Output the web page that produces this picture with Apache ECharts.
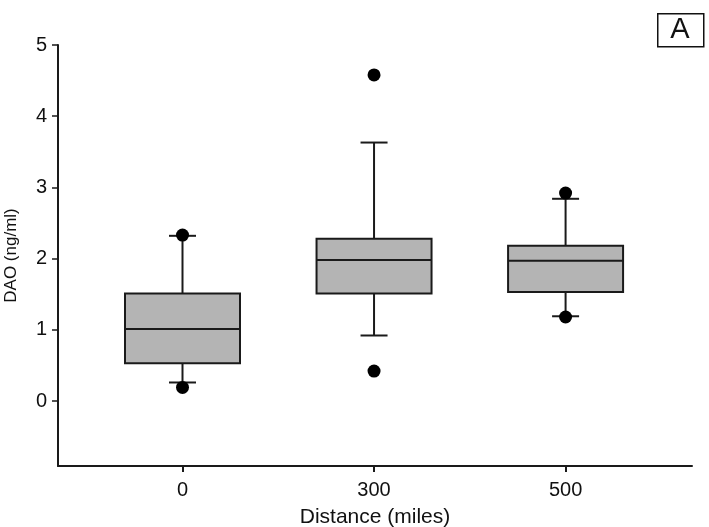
<!DOCTYPE html>
<html>
<head>
<meta charset="utf-8">
<script src="https://cdn.jsdelivr.net/npm/echarts@6/dist/echarts.min.js"></script>
<style>
html,body{margin:0;padding:0;background:#fff;}
#chart{width:709px;height:527px;}
</style>
</head>
<body>
<div id="chart"></div>
<script>
// ---- data ----
var categories = ['0', '300', '500'];
var positions = [1, 2, 3];
var mins    = [0.26, 0.92, 1.19];
var q1s     = [0.53, 1.51, 1.53];
var medians = [1.01, 1.98, 1.97];
var q3s     = [1.51, 2.28, 2.18];
var maxs    = [2.32, 3.63, 2.84];
var outlierPos    = [1, 1, 2, 2, 3, 3];
var outlierValues = [2.33, 0.19, 4.58, 0.42, 2.92, 1.18];
var yTicks = [0, 1, 2, 3, 4, 5];

var boxData = positions.map(function (p, i) {
  return [p, mins[i], q1s[i], medians[i], q3s[i], maxs[i]];
});
var outlierData = outlierPos.map(function (p, i) { return [p, outlierValues[i]]; });

var LINE = '#1a1a1a';
var FONT = 'Liberation Sans, Arial, sans-serif';
var BOX_HALF = 57.5;
var CAP_HALF = 13.5;

var chart = echarts.init(document.getElementById('chart'));
chart.setOption({
  backgroundColor: '#ffffff',
  animation: false,
  grid: { left: 58, right: 17, top: 45, bottom: 61, containLabel: false, outerBoundsMode: 'none' },
  xAxis: {
    type: 'value',
    min: 0.35, max: 3.66,
    name: 'Distance (miles)',
    nameLocation: 'middle',
    nameGap: 41,
    nameTextStyle: { fontFamily: FONT, fontSize: 21, color: '#111' },
    splitLine: { show: false },
    axisLine: { show: true, onZero: false, lineStyle: { color: LINE, width: 2 } },
    axisTick: { show: true, length: 6, customValues: positions, lineStyle: { color: LINE, width: 2 } },
    axisLabel: {
      customValues: positions,
      margin: 14,
      fontFamily: FONT, fontSize: 20, color: '#111',
      formatter: function (v) { return categories[positions.indexOf(Math.round(v))] || ''; }
    }
  },
  yAxis: {
    type: 'value',
    min: -0.913, max: 5,
    name: 'DAO (ng/ml)',
    nameLocation: 'middle',
    nameGap: 38,
    nameTextStyle: { fontFamily: FONT, fontSize: 17, color: '#111' },
    splitLine: { show: false },
    axisLine: { show: true, onZero: false, lineStyle: { color: LINE, width: 2 } },
    axisTick: { show: true, length: 6, customValues: yTicks, lineStyle: { color: LINE, width: 1.5 } },
    axisLabel: {
      customValues: yTicks,
      margin: 11,
      fontFamily: FONT, fontSize: 20, color: '#111'
    }
  },
  series: [
    {
      type: 'custom',
      data: boxData,
      z: 2,
      renderItem: function (params, api) {
        var x = api.value(0);
        var pMin = api.coord([x, api.value(1)]);
        var pQ1 = api.coord([x, api.value(2)]);
        var pMed = api.coord([x, api.value(3)]);
        var pQ3 = api.coord([x, api.value(4)]);
        var pMax = api.coord([x, api.value(5)]);
        var cx = pMed[0];
        var ls = { stroke: LINE, lineWidth: 2 };
        return {
          type: 'group',
          children: [
            { type: 'line', shape: { x1: cx, y1: pQ3[1], x2: cx, y2: pMax[1] }, style: ls },
            { type: 'line', shape: { x1: cx, y1: pQ1[1], x2: cx, y2: pMin[1] }, style: ls },
            { type: 'line', shape: { x1: cx - CAP_HALF, y1: pMax[1], x2: cx + CAP_HALF, y2: pMax[1] }, style: ls },
            { type: 'line', shape: { x1: cx - CAP_HALF, y1: pMin[1], x2: cx + CAP_HALF, y2: pMin[1] }, style: ls },
            { type: 'rect', shape: { x: cx - BOX_HALF, y: pQ3[1], width: BOX_HALF * 2, height: pQ1[1] - pQ3[1] },
              style: { fill: '#b4b4b4', stroke: LINE, lineWidth: 2 } },
            { type: 'line', shape: { x1: cx - BOX_HALF, y1: pMed[1], x2: cx + BOX_HALF, y2: pMed[1] }, style: ls }
          ]
        };
      }
    },
    {
      type: 'scatter',
      data: outlierData,
      symbol: 'circle',
      symbolSize: 13,
      z: 3,
      itemStyle: { color: '#000', opacity: 1 }
    }
  ],
  graphic: [
    { type: 'rect', left: 657, top: 13, shape: { width: 46, height: 33 },
      style: { fill: '#fff', stroke: '#111', lineWidth: 1.5 } },
    { type: 'text', x: 680, y: 30, style: { text: 'A', fontFamily: FONT, fontSize: 29, fill: '#111', align: 'center', verticalAlign: 'middle' } }
  ]
});
</script>
</body>
</html>
